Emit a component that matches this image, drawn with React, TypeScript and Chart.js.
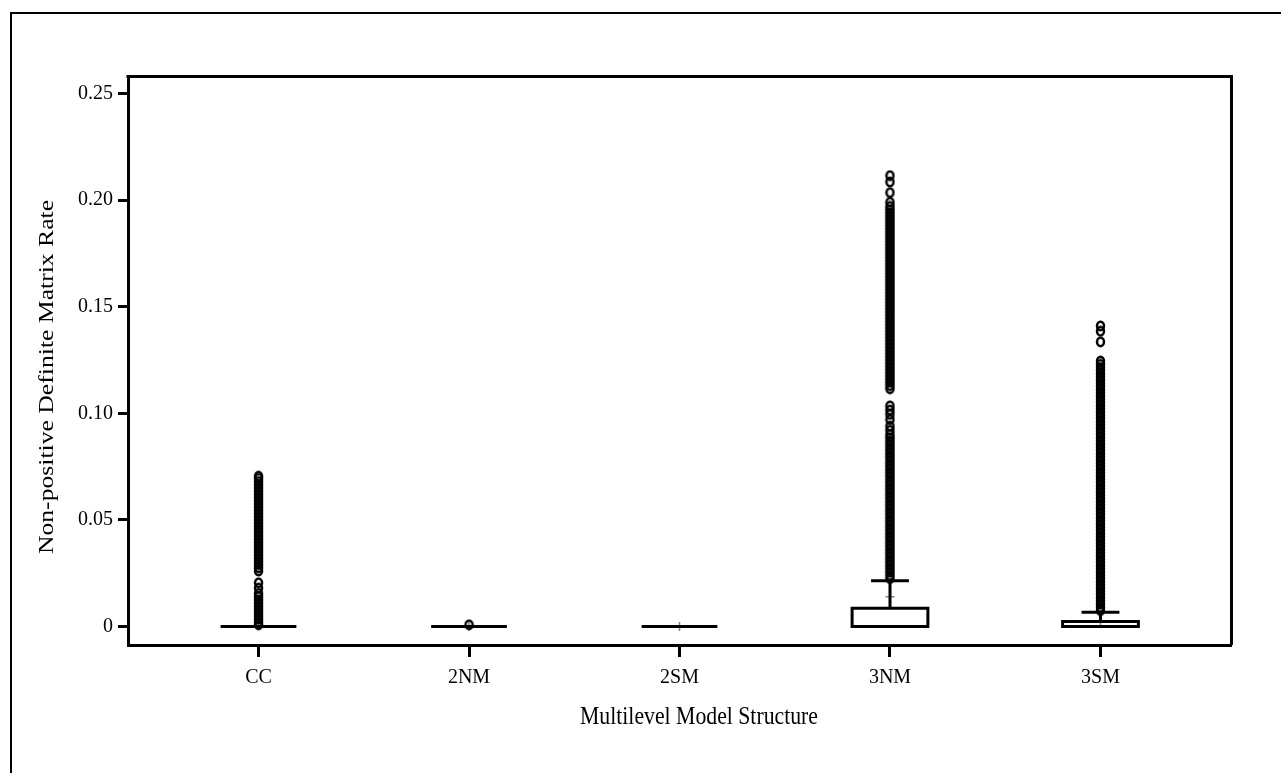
import { useEffect, useRef } from 'react';
import { Chart, registerables } from 'chart.js';

Chart.register(...registerables);

const categories = ['CC', '2NM', '2SM', '3NM', '3SM'];
const q1 = [0, 0, 0, 0, 0];
const medians = [0, 0, 0, 0, 0];
const q3 = [0, 0, 0, 0.0085, 0.0024];
const whiskerHigh = [0, 0, 0, 0.0215, 0.0067];
const means = [0.002, 0.0001, 0, 0.0139, 0.0021];

const ccOutliers = [
  0.0008, 0.002, 0.0035, 0.005, 0.0065, 0.008, 0.0095, 0.011, 0.0125, 0.014, 0.0155,
  0.018, 0.0205,
  0.026, 0.0275, 0.029, 0.0305, 0.032, 0.0335, 0.035, 0.0365, 0.038, 0.0395, 0.041,
  0.0425, 0.044, 0.0455, 0.047, 0.0485, 0.05, 0.0515, 0.053, 0.0545, 0.056, 0.0575,
  0.059, 0.0605, 0.062, 0.0635, 0.065, 0.0665, 0.068, 0.0695, 0.0705,
];
const nm2Outliers = [0.0008];
const sm2Outliers: number[] = [];
const nm3Outliers = [
  0.0225, 0.024, 0.0255, 0.027, 0.0285, 0.03, 0.0315, 0.033, 0.0345, 0.036, 0.0375,
  0.039, 0.0405, 0.042, 0.0435, 0.045, 0.0465, 0.048, 0.0495, 0.051, 0.0525, 0.054,
  0.0555, 0.057, 0.0585, 0.06, 0.0615, 0.063, 0.0645, 0.066, 0.0675, 0.069, 0.0705,
  0.072, 0.0735, 0.075, 0.0765, 0.078, 0.0795, 0.081, 0.0825, 0.084, 0.0855, 0.087,
  0.0885, 0.09, 0.092, 0.094, 0.097, 0.0995, 0.1015, 0.1035,
  0.1115, 0.113, 0.1145, 0.116, 0.1175, 0.119, 0.1205, 0.122, 0.1235, 0.125, 0.1265,
  0.128, 0.1295, 0.131, 0.1325, 0.134, 0.1355, 0.137, 0.1385, 0.14, 0.1415, 0.143,
  0.1445, 0.146, 0.1475, 0.149, 0.1505, 0.152, 0.1535, 0.155, 0.1565, 0.158, 0.1595,
  0.161, 0.1625, 0.164, 0.1655, 0.167, 0.1685, 0.17, 0.1715, 0.173, 0.1745, 0.176,
  0.1775, 0.179, 0.1805, 0.182, 0.1835, 0.185, 0.1865, 0.188, 0.1895, 0.191, 0.1925,
  0.194, 0.1955, 0.197, 0.199, 0.2035, 0.2085, 0.2115,
];
const sm3Outliers = [
  0.0075, 0.009, 0.0105, 0.012, 0.0135, 0.015, 0.0165, 0.018, 0.0195, 0.021, 0.0225,
  0.024, 0.0255, 0.027, 0.0285, 0.03, 0.0315, 0.033, 0.0345, 0.036, 0.0375, 0.039,
  0.0405, 0.042, 0.0435, 0.045, 0.0465, 0.048, 0.0495, 0.051, 0.0525, 0.054, 0.0555,
  0.057, 0.0585, 0.06, 0.0615, 0.063, 0.0645, 0.066, 0.0675, 0.069, 0.0705, 0.072,
  0.0735, 0.075, 0.0765, 0.078, 0.0795, 0.081, 0.0825, 0.084, 0.0855, 0.087, 0.0885,
  0.09, 0.0915, 0.093, 0.0945, 0.096, 0.0975, 0.099, 0.1005, 0.102, 0.1035, 0.105,
  0.1065, 0.108, 0.1095, 0.111, 0.1125, 0.114, 0.1155, 0.117, 0.1185, 0.12, 0.1215,
  0.123, 0.1245, 0.1335, 0.1385, 0.141,
];
const outliers = [ccOutliers, nm2Outliers, sm2Outliers, nm3Outliers, sm3Outliers];

const yTicks = [0, 0.05, 0.1, 0.15, 0.2, 0.25];
const yTickLabels = ['0', '0.05', '0.10', '0.15', '0.20', '0.25'];
const xTitle = 'Multilevel Model Structure';
const yTitle = 'Non-positive Definite Matrix Rate';

const FONT = "'Liberation Serif', 'Times New Roman', serif";
const BOX_HALF = 0.18;
const CAP_HALF = 0.09;
const STRETCH = 1.18;

function makeMarker(): HTMLCanvasElement {
  const c = document.createElement('canvas');
  c.width = 11;
  c.height = 12;
  const g = c.getContext('2d')!;
  g.strokeStyle = '#000';
  g.lineWidth = 2.5;
  g.beginPath();
  g.ellipse(5.5, 6, 3.5, 4.2, 0, 0, Math.PI * 2);
  g.stroke();
  return c;
}

const boxPlugin = {
  id: 'boxplots',
  beforeDatasetsDraw(chart: any) {
    const { ctx, scales } = chart;
    const x = scales.x;
    const y = scales.y;
    ctx.save();
    ctx.strokeStyle = '#808080';
    ctx.lineWidth = 1.5;
    categories.forEach((_, i) => {
      const cx = x.getPixelForValue(i + 1);
      const cy = y.getPixelForValue(means[i]);
      ctx.beginPath();
      ctx.moveTo(cx - 4.5, cy);
      ctx.lineTo(cx + 4.5, cy);
      ctx.moveTo(cx, cy - 4.5);
      ctx.lineTo(cx, cy + 4.5);
      ctx.stroke();
    });
    ctx.strokeStyle = '#000';
    ctx.lineWidth = 3;
    categories.forEach((_, i) => {
      const cx = x.getPixelForValue(i + 1);
      const l = x.getPixelForValue(i + 1 - BOX_HALF);
      const r = x.getPixelForValue(i + 1 + BOX_HALF);
      const top = y.getPixelForValue(q3[i]);
      const bot = y.getPixelForValue(q1[i]);
      const med = y.getPixelForValue(medians[i]);
      ctx.beginPath();
      if (Math.abs(top - bot) > 0.5) {
        ctx.rect(l, top, r - l, bot - top);
      }
      ctx.moveTo(l, med);
      ctx.lineTo(r, med);
      ctx.stroke();
      if (whiskerHigh[i] > q3[i]) {
        const wh = y.getPixelForValue(whiskerHigh[i]);
        const cl = x.getPixelForValue(i + 1 - CAP_HALF);
        const cr = x.getPixelForValue(i + 1 + CAP_HALF);
        ctx.beginPath();
        ctx.moveTo(cx, top);
        ctx.lineTo(cx, wh);
        ctx.moveTo(cl, wh);
        ctx.lineTo(cr, wh);
        ctx.stroke();
      }
    });
    ctx.restore();
  },
  afterDraw(chart: any) {
    const { ctx, chartArea } = chart;
    ctx.save();
    ctx.strokeStyle = '#000';
    ctx.lineWidth = 2;
    ctx.beginPath();
    ctx.moveTo(11, 773);
    ctx.lineTo(11, 13);
    ctx.lineTo(1281, 13);
    ctx.stroke();
    ctx.lineWidth = 3;
    ctx.beginPath();
    ctx.moveTo(chartArea.left - 1.5, chartArea.top + 0.5);
    ctx.lineTo(chartArea.right + 0.5, chartArea.top + 0.5);
    ctx.lineTo(chartArea.right + 0.5, chartArea.bottom);
    ctx.stroke();

    // axis titles
    ctx.fillStyle = '#000';
    ctx.font = `21.75px ${FONT}`;
    ctx.textAlign = 'center';
    ctx.textBaseline = 'middle';
    ctx.save();
    ctx.translate(699, 717);
    ctx.scale(1, STRETCH);
    ctx.fillText(xTitle, 0, 0);
    ctx.restore();
    ctx.save();
    ctx.translate(47, 377);
    ctx.rotate(-Math.PI / 2);
    ctx.scale(STRETCH, 1);
    ctx.fillText(yTitle, 0, 0);
    ctx.restore();
    ctx.restore();
  },
};

export default function App() {
  const ref = useRef<HTMLCanvasElement | null>(null);
  useEffect(() => {
    if (!ref.current) return;
    const marker = makeMarker();
    const chart = new Chart(ref.current, {
      type: 'scatter',
      data: {
        datasets: categories.map((c, i) => ({
          label: c,
          data: outliers[i].map((v) => ({ x: i + 1, y: v })),
          pointStyle: marker,
          pointRadius: 4,
          borderColor: '#000',
          backgroundColor: 'rgba(0,0,0,0)',
        })),
      },
      options: {
        responsive: false,
        animation: false,
        events: [],
        layout: { padding: { left: 0, top: 76, right: 50, bottom: 0 } },
        plugins: { legend: { display: false }, tooltip: { enabled: false } },
        scales: {
          x: {
            type: 'linear',
            min: 0.38,
            max: 5.62,
            afterBuildTicks: (s: any) => {
              s.ticks = categories.map((_, i) => ({ value: i + 1 }));
            },
            afterFit: (s: any) => {
              s.height = 128;
            },
            ticks: {
              autoSkip: false,
              maxRotation: 0,
              padding: 9,
              color: '#000',
              font: { family: FONT, size: 20 },
              callback: (v: any) => categories[Math.round(Number(v)) - 1],
            },
            grid: { drawOnChartArea: false, drawTicks: true, tickLength: 12, tickWidth: 3, tickColor: '#000' },
            border: { display: true, width: 3, color: '#000' },
            title: { display: false, text: xTitle },
          },
          y: {
            type: 'linear',
            min: -0.00868,
            max: 0.2582,
            afterBuildTicks: (s: any) => {
              s.ticks = yTicks.map((v) => ({ value: v }));
            },
            afterFit: (s: any) => {
              s.width = 128;
            },
            ticks: {
              autoSkip: false,
              padding: 5,
              color: '#000',
              font: { family: FONT, size: 20 },
              callback: (_v: any, idx: number) => yTickLabels[idx],
            },
            grid: { drawOnChartArea: false, drawTicks: true, tickLength: 10, tickWidth: 3, tickColor: '#000' },
            border: { display: true, width: 3, color: '#000' },
            title: { display: false, text: yTitle },
          },
        },
      },
      plugins: [boxPlugin],
    } as any);
    return () => chart.destroy();
  }, []);
  return (
    <div style={{ position: 'absolute', left: 0, top: 0, width: 1281, height: 773, background: '#fff' }}>
      <canvas ref={ref} width={1281} height={773} style={{ display: 'block' }} />
    </div>
  );
}
